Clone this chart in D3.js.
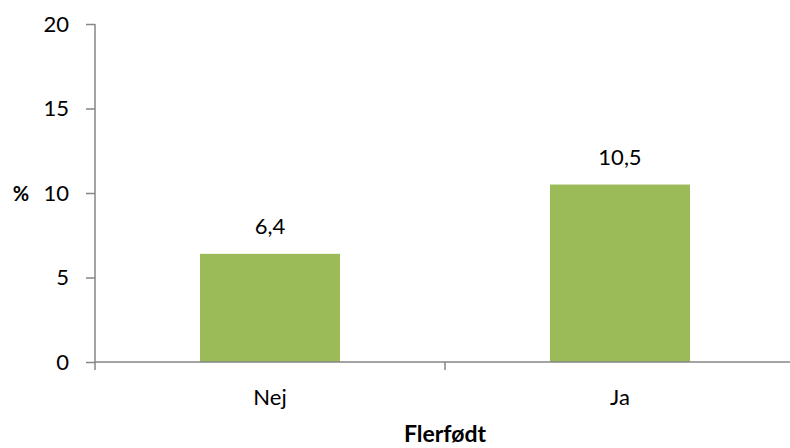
<!DOCTYPE html>
<html>
<head>
<meta charset="utf-8">
<script src="https://cdn.jsdelivr.net/npm/d3@7"></script>
<style>
  html, body { margin: 0; padding: 0; background: #fff; }
  svg text { font-family: Lato, "Open Sans", sans-serif; fill: #000; }
</style>
</head>
<body>
<svg id="chart" width="790" height="448"></svg>
<script>
// Andel (%) efter flerfødsel
const categories = ["Nej", "Ja"];
const values = [6.4, 10.5];
const valueLabels = ["6,4", "10,5"];
const yTicks = [0, 5, 10, 15, 20];

const svg = d3.select("#chart");
const plotLeft = 95, plotRight = 795, plotTop = 24, plotBottom = 362;
const axisColor = "#868686";

const x = d3.scaleBand().domain(categories).range([plotLeft, plotRight]).padding(0);
const y = d3.scaleLinear().domain([0, 20]).range([plotBottom, plotTop]);

// Bars
const barW = x.bandwidth() * 0.4;
svg.selectAll("rect.bar")
  .data(values)
  .join("rect")
  .attr("class", "bar")
  .attr("x", (d, i) => x(categories[i]) + (x.bandwidth() - barW) / 2)
  .attr("y", d => y(d))
  .attr("width", barW)
  .attr("height", d => y(0) - y(d))
  .attr("fill", "#9BBB59");

// Value labels
svg.selectAll("text.val")
  .data(values)
  .join("text")
  .attr("class", "val")
  .attr("x", (d, i) => x(categories[i]) + x.bandwidth() / 2)
  .attr("y", d => y(d) - 20)
  .attr("text-anchor", "middle")
  .attr("font-size", 22)
  .text((d, i) => valueLabels[i]);

// Y axis
const yAxis = svg.append("g")
  .attr("transform", `translate(${plotLeft},0)`)
  .call(d3.axisLeft(y).tickValues(yTicks).tickSize(9).tickPadding(17).tickFormat(d3.format("d")));
yAxis.select(".domain").attr("stroke", axisColor).attr("stroke-width", 1.5)
  .attr("d", `M0,${plotTop}V${plotBottom + 8}`);
yAxis.selectAll(".tick line").attr("stroke", axisColor).attr("stroke-width", 1.5);
yAxis.selectAll(".tick text").attr("font-size", 22).attr("font-family", "Lato, sans-serif").attr("fill", "#000");

// X axis
const xAxis = svg.append("g")
  .attr("transform", `translate(0,${plotBottom})`)
  .call(d3.axisBottom(x).tickSize(0).tickPadding(27));
xAxis.select(".domain").attr("stroke", axisColor).attr("stroke-width", 1.5)
  .attr("d", `M${plotLeft},0H${plotRight}`);
xAxis.selectAll(".tick text").attr("font-size", 22).attr("font-family", "Lato, sans-serif").attr("fill", "#000");

// Category separator ticks
const boundaries = [x(categories[1])];
svg.selectAll("line.sep")
  .data(boundaries)
  .join("line")
  .attr("class", "sep")
  .attr("x1", d => d).attr("x2", d => d)
  .attr("y1", plotBottom).attr("y2", plotBottom + 8)
  .attr("stroke", axisColor).attr("stroke-width", 1.5);

// Axis titles
svg.append("text")
  .attr("x", 445).attr("y", 442)
  .attr("text-anchor", "middle")
  .attr("font-size", 23).attr("font-weight", "bold")
  .text("Flerfødt");

svg.append("text")
  .attr("x", 21).attr("y", 201)
  .attr("text-anchor", "middle")
  .attr("font-size", 20).attr("font-weight", "bold")
  .text("%");
</script>
</body>
</html>
